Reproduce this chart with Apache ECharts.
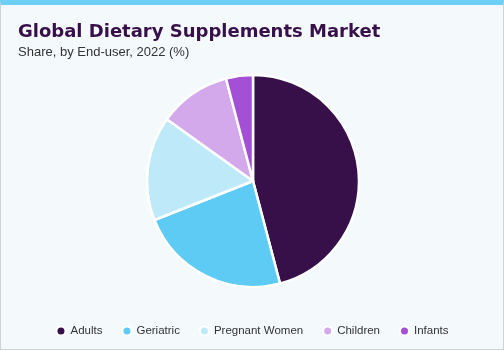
<!DOCTYPE html>
<html>
<head>
  <meta charset="utf-8" />
  <title>Global Dietary Supplements Market</title>
  <style>
    html, body { margin: 0; padding: 0; background: #ffffff; }
    #main {
      width: 502px; height: 344px;
      background: #f4f9fc;
      border: 1px solid #cfd3d6;
      border-top: 5px solid #6ccff6;
    }
  </style>
  <script src="https://cdn.jsdelivr.net/npm/echarts@6/dist/echarts.min.js"></script>
</head>
<body>
  <div id="main"></div>
  <script type="text/javascript">
    // End-user segments and share (%)
    var categories = ['Adults', 'Geriatric', 'Pregnant Women', 'Children', 'Infants'];
    var shares = [45.9, 23.1, 15.9, 11.0, 4.1];
    var colors = ['#37104a', '#5ecbf5', '#bde9f9', '#d4a9ec', '#a34fd6'];

    var myChart = echarts.init(document.getElementById('main'));

    var pieData = [];
    for (var i = 0; i < categories.length; i++) {
      pieData.push({ name: categories[i], value: shares[i], itemStyle: { color: colors[i] } });
    }

    var option = {
      animation: false,
      title: {
        text: 'Global Dietary Supplements Market',
        subtext: 'Share, by End-user, 2022 (%)',
        left: 12,
        top: 13,
        itemGap: 5,
        textStyle: {
          fontFamily: 'DejaVu Sans',
          fontWeight: 'bold',
          fontSize: 18,
          color: '#37104a'
        },
        subtextStyle: {
          fontFamily: 'Liberation Sans',
          fontSize: 13,
          color: '#333333'
        }
      },
      legend: {
        bottom: 7,
        left: 'center',
        icon: 'circle',
        itemWidth: 9,
        itemHeight: 9,
        itemGap: 19,
        textStyle: {
          fontFamily: 'Liberation Sans',
          fontSize: 11.5,
          color: '#333333'
        },
        data: categories
      },
      series: [{
        type: 'pie',
        center: [252, 176],
        radius: 106,
        startAngle: 90,
        clockwise: true,
        label: { show: false },
        labelLine: { show: false },
        itemStyle: { borderColor: '#ffffff', borderWidth: 2.5 },
        data: pieData
      }]
    };
    myChart.setOption(option);
  </script>
</body>
</html>
